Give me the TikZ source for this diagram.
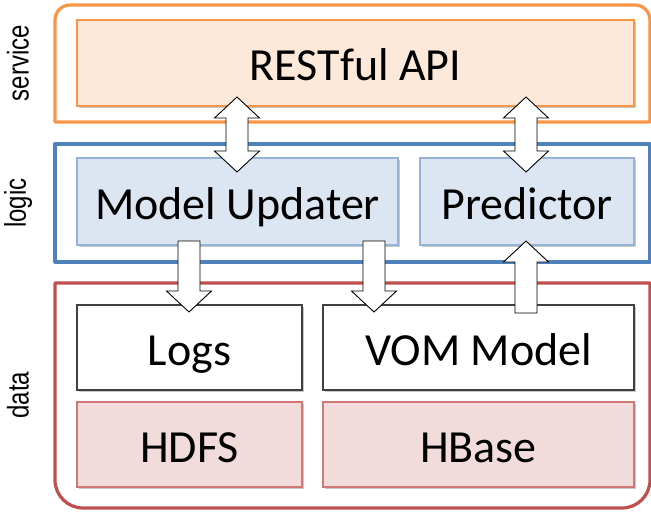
\documentclass[tikz,border=0pt]{standalone}
\usepackage{fontspec}
\setmainfont{Carlito}
\newfontfamily\labelfont{Liberation Sans}
\usetikzlibrary{calc,shadows}
\definecolor{svcline}{HTML}{F79646}
\definecolor{svcfill}{HTML}{FDE9D9}
\definecolor{logline}{HTML}{4F81BD}
\definecolor{logbox}{HTML}{95B3D7}
\definecolor{logfill}{HTML}{DCE6F2}
\definecolor{datline}{HTML}{C0504D}
\definecolor{datbox}{HTML}{D07875}
\definecolor{datfill}{HTML}{F2DCDB}
\definecolor{plainline}{HTML}{404040}
\tikzset{
  frame/.style={line width=3.2pt, line join=round},
  box/.style={rectangle, line width=1.3pt, inner sep=0pt,
    font=\fontsize{46}{52}\selectfont, text height=35pt, text depth=0pt,
    drop shadow={shadow xshift=1.5pt, shadow yshift=-1.8pt, opacity=0.3, fill=black!70}},
  svcbox/.style={box, draw=svcline, fill=svcfill},
  logicbox/.style={box, draw=logbox, fill=logfill},
  plainbox/.style={box, draw=plainline, fill=white},
  databox/.style={box, draw=datbox, fill=datfill},
  sidelabel/.style={rotate=90, font=\labelfont\fontsize{30}{34}\selectfont, inner sep=0pt},
  blk/.style={draw=black, fill=white, line width=0.9pt, line join=miter},
  dblblock/.style={blk, to path={
    -- ($(\tikztostart)+(22.5pt,-21pt)$) -- ($(\tikztostart)+(11pt,-21pt)$)
    -- ($(\tikztotarget)+(11pt,21pt)$) -- ($(\tikztotarget)+(22.5pt,21pt)$)
    -- (\tikztotarget)
    -- ($(\tikztotarget)+(-22.5pt,21pt)$) -- ($(\tikztotarget)+(-11pt,21pt)$)
    -- ($(\tikztostart)+(-11pt,-21pt)$) -- ($(\tikztostart)+(-22.5pt,-21pt)$) -- cycle}},
  downblock/.style={blk, to path={
    -- ($(\tikztostart)+(11pt,0pt)$) -- ($(\tikztotarget)+(11pt,21pt)$)
    -- ($(\tikztotarget)+(22.5pt,21pt)$) -- (\tikztotarget)
    -- ($(\tikztotarget)+(-22.5pt,21pt)$) -- ($(\tikztotarget)+(-11pt,21pt)$)
    -- ($(\tikztostart)+(-11pt,0pt)$) -- cycle}},
  upblock/.style={blk, to path={
    -- ($(\tikztostart)+(11pt,0pt)$) -- ($(\tikztotarget)+(11pt,-21pt)$)
    -- ($(\tikztotarget)+(22.5pt,-21pt)$) -- (\tikztotarget)
    -- ($(\tikztotarget)+(-22.5pt,-21pt)$) -- ($(\tikztotarget)+(-11pt,-21pt)$)
    -- ($(\tikztostart)+(-11pt,0pt)$) -- cycle}},
}
\begin{document}
\begin{tikzpicture}[x=1pt, y=-1pt]
\useasboundingbox (0,0) rectangle (651,512);
\fill[white] (0,0) rectangle (651,512);
% frames
\draw[frame, draw=svcline] (55,122) -- (55,20) arc[start angle=180, end angle=270, radius=15]
  -- (635,5) arc[start angle=270, end angle=360, radius=15] -- (650,122) -- cycle;
\draw[frame, draw=logline] (55,144) rectangle (650,262);
\draw[frame, draw=datline] (55,283) -- (55,480) arc[start angle=180, end angle=90, radius=28]
  -- (622,508) arc[start angle=90, end angle=0, radius=28] -- (650,283) -- cycle;
% side labels
\node[sidelabel] (lsvc) at (18,63) {\scalebox{0.8}[1]{service}};
\node[sidelabel] (llog) at (18,203) {\scalebox{0.8}[1]{logic}};
\node[sidelabel] (ldat) at (18,395) {\scalebox{0.8}[1]{data}};
% boxes
\node[svcbox, minimum width=557pt, minimum height=86pt] (api) at (355.5,63) {RESTful API};
\node[logicbox, minimum width=321pt, minimum height=87pt] (mu) at (237.5,201.5) {Model Updater};
\node[logicbox, minimum width=214pt, minimum height=87pt] (pred) at (527,201.5) {Predictor};
\node[plainbox, minimum width=225pt, minimum height=85pt] (logs) at (189.5,347.5) {Logs};
\node[plainbox, minimum width=311pt, minimum height=85pt] (vom) at (478.5,347.5) {VOM Model};
\node[databox, minimum width=225pt, minimum height=85pt] (hdfs) at (189.5,444.5) {HDFS};
\node[databox, minimum width=311pt, minimum height=85pt] (hbase) at (478.5,444.5) {HBase};
% connector end points
\coordinate (a1s) at (237,97);  \coordinate (a1t) at (237,172);
\coordinate (a2s) at (526,97);  \coordinate (a2t) at (526,172);
\coordinate (d1s) at (189,241); \coordinate (d1t) at (189,312);
\coordinate (d2s) at (374,241); \coordinate (d2t) at (374,312);
\coordinate (u1s) at (526,313); \coordinate (u1t) at (526,241);
% block arrows
\draw[dblblock] (a1s) to (a1t);
\draw[dblblock] (a2s) to (a2t);
\draw[downblock] (d1s) to (d1t);
\draw[downblock] (d2s) to (d2t);
\draw[upblock] (u1s) to (u1t);
\end{tikzpicture}
\end{document}
